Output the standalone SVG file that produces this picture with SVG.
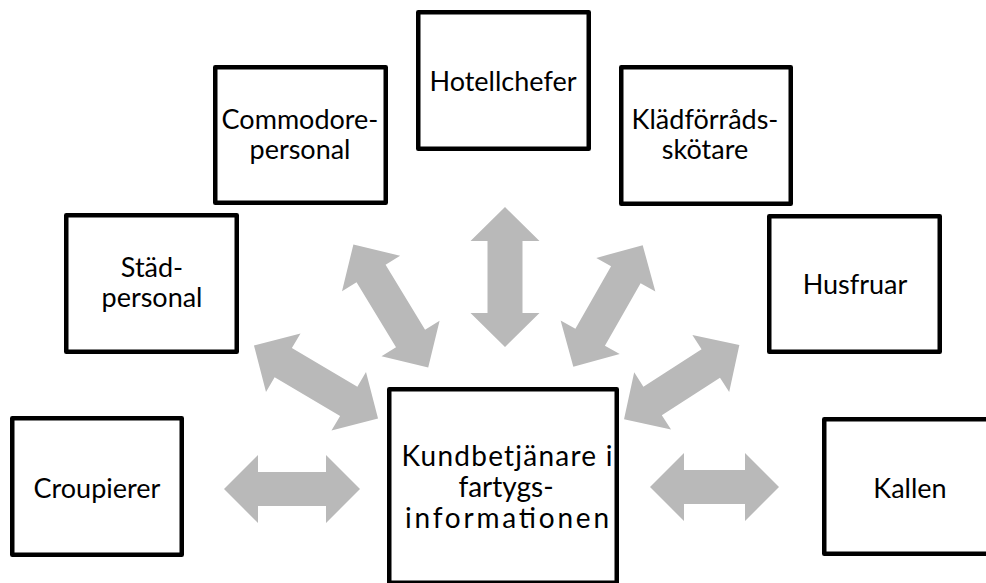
<svg xmlns="http://www.w3.org/2000/svg" width="986" height="583" viewBox="0 0 986 583">
<style>
.box{fill:#ffffff;stroke:#000000;stroke-width:4.5;stroke-linejoin:round}
.lbl{font-family:Lato,"Liberation Sans",sans-serif;font-size:27px;fill:#000000;text-anchor:middle}
.big{font-size:28px}
.arr{fill:#b9b9b9;stroke:none}
</style>
<rect width="986" height="583" fill="#ffffff"/>
<g id="connectors">
<path class="arr" transform="translate(292,489)" d="M-68,0 L-34,-34 L-34,-17 L34,-17 L34,-34 L68,0 L34,34 L34,17 L-34,17 L-34,34 Z"/>
<path class="arr" transform="translate(714.5,487)" d="M-64.5,0 L-30.5,-34 L-30.5,-17 L30.5,-17 L30.5,-34 L64.5,0 L30.5,34 L30.5,17 L-30.5,17 L-30.5,34 Z"/>
<path class="arr" transform="translate(505,277) rotate(90)" d="M-70,0 L-36,-34.5 L-36,-17.5 L36,-17.5 L36,-34.5 L70,0 L36,34.5 L36,17.5 L-36,17.5 L-36,34.5 Z"/>
<path class="arr" transform="translate(316,382) rotate(30.5)" d="M-72,0 L-38,-34 L-38,-17 L38,-17 L38,-34 L72,0 L38,34 L38,17 L-38,17 L-38,34 Z"/>
<path class="arr" transform="translate(390.8,306) rotate(58.7)" d="M-72,0 L-38,-34 L-38,-17 L38,-17 L38,-34 L72,0 L38,34 L38,17 L-38,17 L-38,34 Z"/>
<path class="arr" transform="translate(608,306) rotate(-60.3)" d="M-70,0 L-36,-34 L-36,-17 L36,-17 L36,-34 L70,0 L36,34 L36,17 L-36,17 L-36,34 Z"/>
<path class="arr" transform="translate(681.7,382.2) rotate(-32.8)" d="M-68.6,0 L-34.6,-34 L-34.6,-17 L34.6,-17 L34.6,-34 L68.6,0 L34.6,34 L34.6,17 L-34.6,17 L-34.6,34 Z"/>
</g>
<g id="node-croupierer">
<rect class="box" x="12.25" y="418.25" width="169.5" height="136.5"/>
<text class="lbl" x="97" y="498">Croupierer</text>
</g>
<g id="node-stadpersonal">
<rect class="box" x="66.25" y="215.25" width="170.5" height="136.5"/>
<text class="lbl" x="152" y="277">Städ-</text>
<text class="lbl" x="152" y="307">personal</text>
</g>
<g id="node-commodorepersonal">
<rect class="box" x="215.25" y="67.25" width="170.5" height="135.5"/>
<text class="lbl" x="300" y="128.5">Commodore-</text>
<text class="lbl" x="300" y="158.5">personal</text>
</g>
<g id="node-hotellchefer">
<rect class="box" x="418.25" y="12.25" width="170.5" height="136.5"/>
<text class="lbl" x="503" y="91">Hotellchefer</text>
</g>
<g id="node-kladforradsskotare">
<rect class="box" x="621.25" y="67.25" width="169.5" height="136.5"/>
<text class="lbl" x="705" y="129">Klädförråds-</text>
<text class="lbl" x="705" y="159">skötare</text>
</g>
<g id="node-husfruar">
<rect class="box" x="769.25" y="216.25" width="170.5" height="135.5"/>
<text class="lbl" x="855" y="294">Husfruar</text>
</g>
<g id="node-kallen">
<rect class="box" x="824.25" y="419.25" width="170.5" height="134.5"/>
<text class="lbl" x="910" y="498">Kallen</text>
</g>
<g id="node-kundbetjanare">
<rect class="box" x="389.25" y="389.25" width="227.5" height="193.5"/>
<text class="lbl big" x="507" y="466" textLength="211" lengthAdjust="spacing">Kundbetjänare i</text>
<text class="lbl big" x="506" y="497">fartygs-</text>
<text class="lbl big" x="507" y="528" textLength="204" lengthAdjust="spacing">informationen</text>
</g>
</svg>
